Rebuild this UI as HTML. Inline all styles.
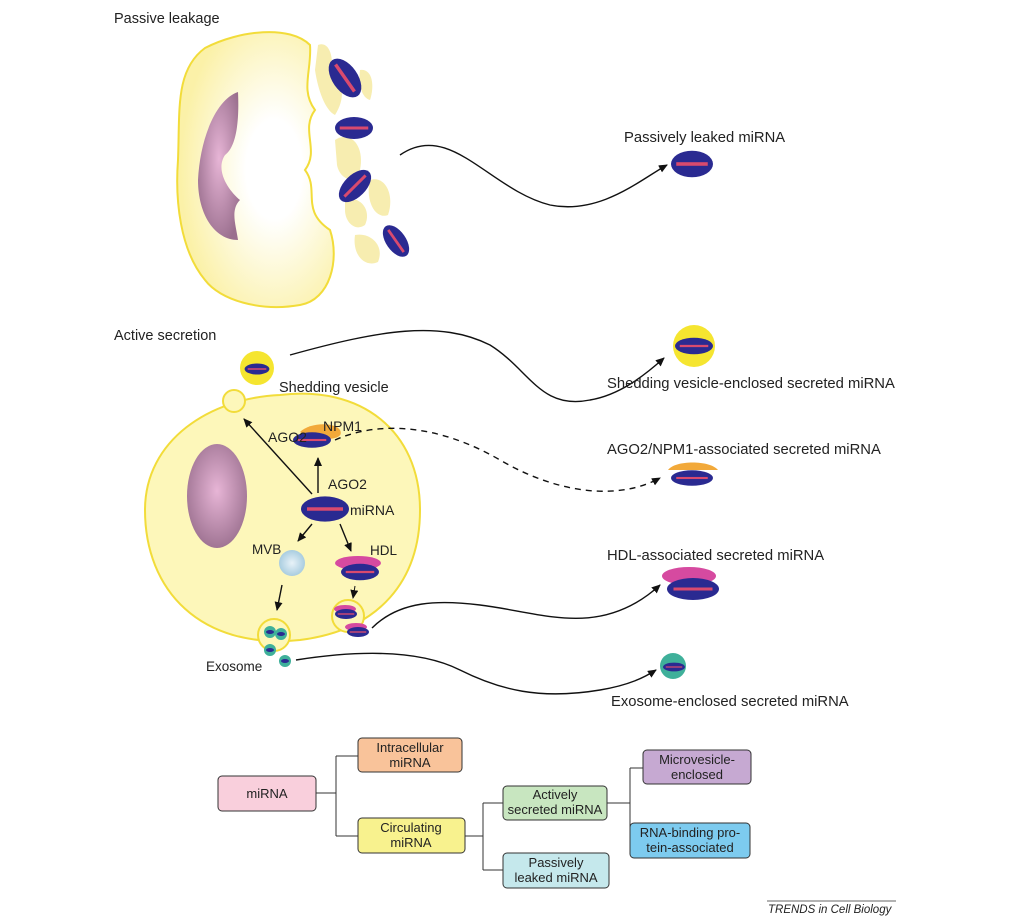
<!DOCTYPE html>
<html><head><meta charset="utf-8"><style>
body{margin:0;background:#fff}
svg{display:block}
text{font-family:"Liberation Sans",sans-serif;fill:#222}
</style></head><body>
<svg width="1018" height="920" viewBox="0 0 1018 920" xmlns="http://www.w3.org/2000/svg">
<defs>
<radialGradient id="cg" cx="0.62" cy="0.5" r="0.6"><stop offset="0.3" stop-color="#fff"/><stop offset="1" stop-color="#fbf1a8"/></radialGradient>
<radialGradient id="ng" cx="0.5" cy="0.45" r="0.6"><stop offset="0" stop-color="#e7b5d6"/><stop offset="1" stop-color="#9a6f8e"/></radialGradient>
<radialGradient id="mvb" cx="0.5" cy="0.5" r="0.5"><stop offset="0" stop-color="#e8f2f8"/><stop offset="1" stop-color="#a9cde0"/></radialGradient>
<marker id="ar" markerWidth="10" markerHeight="10" refX="8" refY="4" orient="auto" markerUnits="userSpaceOnUse"><path d="M0,0 L9,4 L0,8 z" fill="#111"/></marker>
<g id="mi"><ellipse cx="0" cy="0" rx="20" ry="11" fill="#2a2a91"/><rect x="-15" y="-1.5" width="30" height="3" fill="#d94a6e"/></g>
</defs>

<text x="114" y="23" font-size="14.5">Passive leakage</text>
<path d="M205,48 C240,30 290,25 310,45 C312,70 300,90 315,110 C300,130 320,150 305,170 C320,190 300,210 330,230 C340,260 330,300 300,305 C260,312 220,300 205,280 C180,250 175,200 178,160 C180,110 175,70 205,48 z" fill="url(#cg)" stroke="#f2dc3a" stroke-width="2"/>
<path d="M238,92 C215,100 200,140 198,180 C198,215 215,240 238,240 C236,225 230,210 240,200 C228,190 215,170 225,155 C232,150 240,135 238,92 z" fill="url(#ng)"/>
<g fill="#f7edb0">
<path d="M318,45 C330,40 335,60 330,75 C345,80 345,100 335,115 C325,110 318,90 315,70 z"/>
<path d="M335,140 C350,130 365,145 360,170 C355,185 340,180 337,165 z"/>
<path d="M345,200 C360,195 372,210 365,225 C355,232 345,222 345,210 z"/>
<path d="M370,180 C385,175 395,195 388,215 C375,220 365,200 370,180 z"/>
<path d="M355,235 C370,232 385,245 378,262 C365,268 352,255 355,235 z"/>
<path d="M360,70 C372,68 375,85 370,100 C362,98 358,85 360,70 z"/>
</g>
<g transform="translate(345,78) rotate(55) scale(1.1,1.15)"><use href="#mi"/></g>
<g transform="translate(354,128) scale(0.95,1)"><use href="#mi"/></g>
<g transform="translate(355,186) rotate(-45)"><use href="#mi"/></g>
<g transform="translate(396,241) rotate(55) scale(0.9,0.9)"><use href="#mi"/></g>
<path d="M400,155 C450,120 490,190 550,205 C600,215 640,180 667,165" fill="none" stroke="#111" stroke-width="1.4" marker-end="url(#ar)"/>
<text x="624" y="142" font-size="14.8">Passively leaked miRNA</text>
<g transform="translate(692,164) scale(1.05,1.2)"><use href="#mi"/></g>

<text x="114" y="340" font-size="14.5">Active secretion</text>
<path d="M280,395 C360,385 420,430 420,510 C420,580 380,630 300,640 C200,650 145,590 145,510 C145,440 210,398 280,395 z" fill="#fdf7ba" stroke="#f2dc3a" stroke-width="2"/>
<circle cx="234" cy="401" r="11" fill="#fdf7ba" stroke="#f2dc3a" stroke-width="2"/>
<ellipse cx="217" cy="496" rx="30" ry="52" fill="url(#ng)"/>
<circle cx="257" cy="368" r="17" fill="#f5e530"/>
<g transform="translate(257,369) scale(0.62,0.5)"><use href="#mi"/></g>
<text x="279" y="392" font-size="14.5">Shedding vesicle</text>
<path d="M290,355 C380,330 440,320 490,345 C530,370 540,410 590,400 C620,395 645,375 664,358" fill="none" stroke="#111" stroke-width="1.4" marker-end="url(#ar)"/>
<circle cx="694" cy="346" r="21" fill="#f5e530"/>
<g transform="translate(694,346) scale(0.95,0.75)"><use href="#mi"/></g>
<text x="607" y="388" font-size="14.8">Shedding vesicle-enclosed secreted miRNA</text>

<path d="M300,432 C310,422 335,422 340,430 C345,440 325,440 310,438 z" fill="#f2a93a"/>
<g transform="translate(312,440) scale(0.95,0.7)"><use href="#mi"/></g>
<text x="268" y="442" font-size="14">AGO2</text>
<text x="323" y="431" font-size="14">NPM1</text>
<path d="M335,440 C380,420 440,425 500,460 C560,495 620,500 660,478" fill="none" stroke="#111" stroke-width="1.4" stroke-dasharray="6,5" marker-end="url(#ar)"/>
<path d="M668,470 C675,460 710,460 718,470 Z" fill="#f2a93a"/>
<g transform="translate(692,478) scale(1.05,0.7)"><use href="#mi"/></g>
<text x="607" y="454" font-size="14.8">AGO2/NPM1-associated secreted miRNA</text>

<g transform="translate(325,509) scale(1.2,1.15)"><use href="#mi"/></g>
<text x="328" y="489" font-size="14">AGO2</text>
<text x="350" y="515" font-size="14">miRNA</text>
<line x1="318" y1="493" x2="318" y2="458" stroke="#111" stroke-width="1.4" marker-end="url(#ar)"/>
<line x1="312" y1="494" x2="244" y2="419" stroke="#111" stroke-width="1.4" marker-end="url(#ar)"/>
<line x1="312" y1="524" x2="298" y2="541" stroke="#111" stroke-width="1.4" marker-end="url(#ar)"/>
<line x1="340" y1="524" x2="351" y2="551" stroke="#111" stroke-width="1.4" marker-end="url(#ar)"/>
<text x="252" y="554" font-size="13.5">MVB</text>
<circle cx="292" cy="563" r="13" fill="url(#mvb)"/>
<text x="370" y="555" font-size="13.5">HDL</text>
<ellipse cx="358" cy="563" rx="23" ry="7" fill="#d64aa0"/>
<g transform="translate(360,572) scale(0.95,0.75)"><use href="#mi"/></g>
<line x1="282" y1="585" x2="277" y2="610" stroke="#111" stroke-width="1.4" marker-end="url(#ar)"/>
<line x1="355" y1="586" x2="353" y2="598" stroke="#111" stroke-width="1" marker-end="url(#ar)"/>
<circle cx="348" cy="616" r="16" fill="#fdf7ba" stroke="#f2dc3a" stroke-width="2"/>
<ellipse cx="345" cy="609" rx="11" ry="4" fill="#d64aa0"/>
<g transform="translate(346,614) scale(0.55,0.45)"><use href="#mi"/></g>
<ellipse cx="356" cy="627" rx="11" ry="4" fill="#d64aa0"/>
<g transform="translate(358,632) scale(0.55,0.45)"><use href="#mi"/></g>
<circle cx="274" cy="635" r="16" fill="#fdf7ba" stroke="#f2dc3a" stroke-width="2"/>
<g fill="#3fb09a">
<circle cx="270" cy="632" r="6"/><circle cx="281" cy="634" r="6"/><circle cx="270" cy="650" r="6"/><circle cx="285" cy="661" r="6"/>
</g>
<g fill="#2a2a91"><ellipse cx="270" cy="632" rx="4" ry="2"/><ellipse cx="281" cy="634" rx="4" ry="2"/><ellipse cx="270" cy="650" rx="4" ry="2"/><ellipse cx="285" cy="661" rx="4" ry="2"/></g>
<text x="206" y="671" font-size="13.5">Exosome</text>
<path d="M372,628 C400,600 440,600 480,605 C540,612 600,640 660,585" fill="none" stroke="#111" stroke-width="1.4" marker-end="url(#ar)"/>
<path d="M296,660 C360,650 420,650 460,670 C500,690 540,700 600,690 C630,685 645,677 656,670" fill="none" stroke="#111" stroke-width="1.4" marker-end="url(#ar)"/>
<ellipse cx="689" cy="576" rx="27" ry="9" fill="#d64aa0"/>
<g transform="translate(693,589) scale(1.3,1)"><use href="#mi"/></g>
<text x="607" y="560" font-size="14.8">HDL-associated secreted miRNA</text>
<circle cx="673" cy="666" r="13" fill="#3fb09a"/>
<g transform="translate(674,667) scale(0.55,0.4)"><use href="#mi"/></g>
<text x="611" y="706" font-size="14.8">Exosome-enclosed secreted miRNA</text>

<g fill="none" stroke="#333" stroke-width="1">
<path d="M316,793 L336,793 M336,756 L336,836 M336,756 L358,756 M336,836 L358,836"/>
<path d="M465,836 L483,836 M483,803 L483,870 M483,803 L503,803 M483,870 L503,870"/>
<path d="M607,803 L625,803 M630,768 L630,840 M625,803 L630,803 M630,768 L643,768 M630,840 L632,840"/>
</g>
<g stroke="#333" stroke-width="1">
<rect x="218" y="776" width="98" height="35" rx="4" fill="#f9cfdc"/>
<rect x="358" y="738" width="104" height="34" rx="4" fill="#f9c39a"/>
<rect x="358" y="818" width="107" height="35" rx="4" fill="#f8f28e"/>
<rect x="503" y="786" width="104" height="34" rx="4" fill="#c8e6c0"/>
<rect x="503" y="853" width="106" height="35" rx="4" fill="#c5e8ec"/>
<rect x="643" y="750" width="108" height="34" rx="4" fill="#c6a9d2"/>
<rect x="630" y="823" width="120" height="35" rx="4" fill="#7dcbef"/>
</g>
<g font-size="13" text-anchor="middle">
<text x="267" y="798">miRNA</text>
<text x="410" y="752">Intracellular</text><text x="410" y="767">miRNA</text>
<text x="411" y="832">Circulating</text><text x="411" y="847">miRNA</text>
<text x="555" y="799">Actively</text><text x="555" y="814">secreted miRNA</text>
<text x="556" y="867">Passively</text><text x="556" y="882">leaked miRNA</text>
<text x="697" y="764">Microvesicle-</text><text x="697" y="779">enclosed</text>
<text x="690" y="837">RNA-binding pro-</text><text x="690" y="852">tein-associated</text>
</g>
<line x1="767" y1="901" x2="896" y2="901" stroke="#333" stroke-width="0.8"/>
<text x="768" y="913" font-size="11.5" font-style="italic">TRENDS in Cell Biology</text>
</svg>
</body></html>
